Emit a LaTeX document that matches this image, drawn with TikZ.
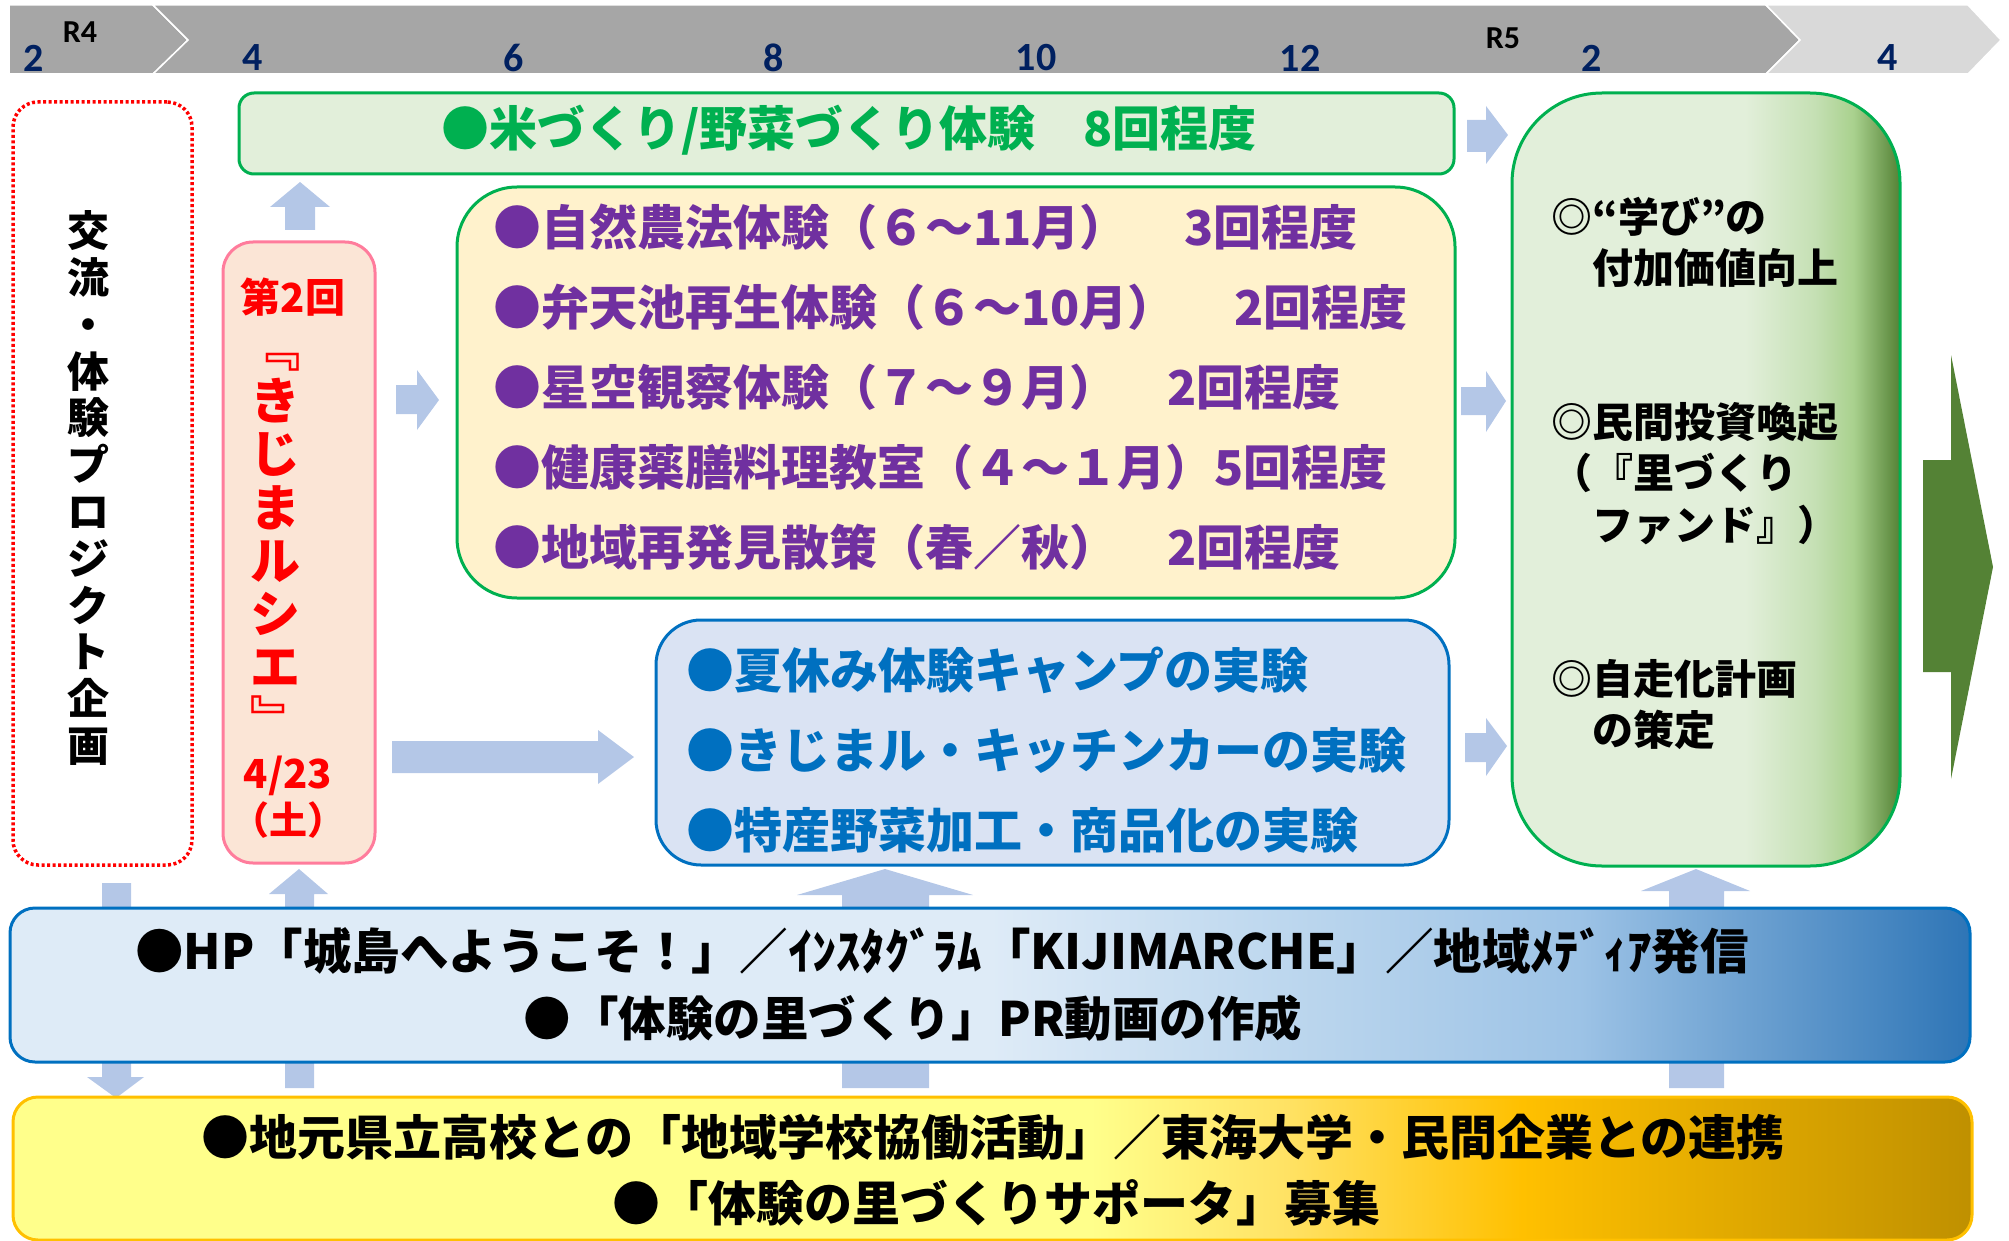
\documentclass[tikz,border=0pt]{standalone}
\usepackage{fontspec}
\setmainfont{Noto Sans CJK JP}
\newfontfamily\calibri{Carlito}
\definecolor{tlgray}{HTML}{A6A6A6}
\definecolor{tllight}{HTML}{D9D9D9}
\definecolor{navy}{HTML}{002060}
\definecolor{arrowblue}{HTML}{B4C7E7}
\definecolor{jgreen}{HTML}{00B050}
\definecolor{ricefill}{HTML}{E2EFDA}
\definecolor{goaltwo}{HTML}{C5E0B4}
\definecolor{goalthree}{HTML}{A9D18E}
\definecolor{darkgreen}{HTML}{548235}
\definecolor{creamfill}{HTML}{FFF2CC}
\definecolor{purpletext}{HTML}{7030A0}
\definecolor{bluetext}{HTML}{0070C0}
\definecolor{bluefill}{HTML}{DAE3F3}
\definecolor{peach}{HTML}{FBE5D6}
\definecolor{pinkline}{HTML}{FF7C9C}
\definecolor{prone}{HTML}{DEEBF7}
\definecolor{prtwo}{HTML}{BDD7EE}
\definecolor{prthree}{HTML}{9DC3E6}
\definecolor{prfour}{HTML}{2E75B6}
\definecolor{yelone}{HTML}{FFFF8B}
\definecolor{yeltwo}{HTML}{FFE264}
\definecolor{yelthree}{HTML}{FFC000}
\definecolor{yelfour}{HTML}{BF9000}
\pgfdeclarehorizontalshading{goalshade}{100bp}{color(0bp)=(ricefill); color(25bp)=(ricefill); color(55bp)=(ricefill); color(64bp)=(goaltwo); color(69bp)=(goalthree); color(75bp)=(darkgreen); color(100bp)=(darkgreen)}
\pgfdeclarehorizontalshading{prshade}{100bp}{color(0bp)=(prone); color(25bp)=(prone); color(50bp)=(prone); color(57.5bp)=(prtwo); color(65bp)=(prthree); color(75bp)=(prfour); color(100bp)=(prfour)}
\pgfdeclarehorizontalshading{yelshade}{100bp}{color(0bp)=(yelone); color(25bp)=(yelone); color(52.5bp)=(yelone); color(57.5bp)=(yeltwo); color(63.5bp)=(yelthree); color(75bp)=(yelfour); color(100bp)=(yelfour)}
\tikzset{
  boxnode/.style={rectangle, inner sep=0pt, line width=3pt},
  arrowfill/.style={fill=arrowblue},
  tlnum/.style={inner sep=0pt, text=navy, font={\calibri\bfseries\fontsize{40}{44}\selectfont}},
  tlera/.style={inner sep=0pt, text=black, font={\calibri\bfseries\fontsize{32}{36}\selectfont}},
  jtext/.style={inner sep=0pt, font={\bfseries\fontsize{#1}{#1}\selectfont}},
  vstack/.style 2 args={inner sep=0pt, align=center, font={\bfseries\fontsize{#1}{#2}\selectfont}},
}
\begin{document}
\begin{tikzpicture}[x=1pt,y=-1pt]
\useasboundingbox (0,0) rectangle (2009,1241);
% timeline
\filldraw[fill=tlgray, draw=white, line width=1.5pt] (9,5) -- (153,5) -- (188,40) -- (153,74) -- (9,74) -- cycle;
\filldraw[fill=tlgray, draw=white, line width=1.5pt] (153,5) -- (1766,5) -- (1800,40) -- (1766,74) -- (153,74) -- (188,40) -- cycle;
\filldraw[fill=tllight, draw=white, line width=1.5pt] (1766,5) -- (1968,5) -- (2001,40) -- (1968,74) -- (1766,74) -- (1800,40) -- cycle;
\node[tlnum] (m1) at (34,58) {2};
\node[tlera] (r4) at (80,32) {R4};
\node[tlnum] (m2) at (253,58) {4};
\node[tlnum] (m3) at (514,58) {6};
\node[tlnum] (m4) at (774,58) {8};
\node[tlnum] (m5) at (1036,58) {10};
\node[tlnum] (m6) at (1300,58) {12};
\node[tlera] (r5) at (1503,38) {R5};
\node[tlnum] (m7) at (1592,58) {2};
\node[tlnum] (m8) at (1888,58) {4};
% block arrows
\fill[arrowfill] (285,230) -- (285,207) -- (270,207) -- (300,182) -- (330,207) -- (315,207) -- (315,230) -- cycle;
\fill[arrowfill] (1467,120) -- (1486,120) -- (1486,106) -- (1508,135) -- (1486,164) -- (1486,152) -- (1467,152) -- cycle;
\fill[arrowfill] (1461,387) -- (1486,387) -- (1486,371) -- (1506,401) -- (1486,432) -- (1486,415) -- (1461,415) -- cycle;
\fill[arrowfill] (1465,733) -- (1486,733) -- (1486,718) -- (1507,746) -- (1486,776) -- (1486,762) -- (1465,762) -- cycle;
\fill[arrowfill] (396,385) -- (417,385) -- (417,370) -- (439,400) -- (417,430) -- (417,414) -- (396,414) -- cycle;
\fill[arrowfill] (392,741) -- (598,741) -- (598,730) -- (634,757) -- (598,784) -- (598,773) -- (392,773) -- cycle;
\fill[arrowfill] (102,883) -- (131,883) -- (131,1077) -- (144,1077) -- (116,1098) -- (87,1077) -- (102,1077) -- cycle;
\fill[arrowfill] (285,1088) -- (285,894) -- (269,894) -- (299,869) -- (328,894) -- (314,894) -- (314,1088) -- cycle;
\fill[arrowfill] (842,1088) -- (842,895) -- (797,895) -- (885,869) -- (973,895) -- (929,895) -- (929,1088) -- cycle;
\fill[arrowfill] (1669,1088) -- (1669,891) -- (1641,891) -- (1696,869) -- (1750,891) -- (1724,891) -- (1724,1088) -- cycle;
\fill[darkgreen] (1923,460) -- (1951,460) -- (1951,355) -- (1993,567) -- (1951,779) -- (1951,672) -- (1923,672) -- cycle;
% boxes
\node[boxnode, draw=red, line width=3.5pt, dash pattern=on 3pt off 2.5pt, rounded corners=25pt, minimum width=179pt, minimum height=763pt] (redbox) at (102.5,483.5) {};
\node[boxnode, fill=peach, draw=pinkline, rounded corners=30pt, minimum width=152pt, minimum height=621pt] (pinkbox) at (299,552.5) {};
\node[boxnode, fill=ricefill, draw=jgreen, rounded corners=15pt, minimum width=1215pt, minimum height=81pt] (rice) at (846.5,133.5) {};
\node[boxnode, fill=creamfill, draw=jgreen, rounded corners=60pt, minimum width=998pt, minimum height=411pt] (nature) at (956,392.5) {};
\node[boxnode, fill=bluefill, draw=bluetext, rounded corners=45pt, minimum width=793pt, minimum height=245pt] (camp) at (1052.5,742.5) {};
\node[boxnode, shading=goalshade, draw=jgreen, rounded corners=90pt, minimum width=388pt, minimum height=773pt] (goal) at (1706,479.5) {};
\node[boxnode, shading=prshade, draw=bluetext, rounded corners=25pt, minimum width=1960pt, minimum height=154pt] (pr) at (990,985) {};
\node[boxnode, shading=yelshade, draw=yelthree, rounded corners=25pt, minimum width=1959pt, minimum height=143pt] (partner) at (992.5,1168.5) {};
% red box text
\node[vstack={42}{46.8}] (redtext) at (88,488) {交\\流\\・\\体\\験\\プ\\ロ\\ジ\\ク\\ト\\企\\画};
% pink box text
\node[jtext=40, text=red] (kai) at (293,297) {第2回};
\node[vstack={50}{53.1}, text=red] (marche) at (275,546) {﹃\\き\\じ\\ま\\ル\\シ\\エ\\﹄};
\node[jtext=40, text=red] (date) at (288,776) {4/23};
\node[jtext=38, text=red] (day) at (288,820) {（土）};
% rice box
\node[jtext=48, text=jgreen] (ricetext) at (849,130) {●米づくり/野菜づくり体験　8回程度};
% nature box
\node[jtext=48, text=purpletext, anchor=west] (n1) at (493,227) {●自然農法体験（６～11月）};
\node[jtext=48, text=purpletext, anchor=west] (n1c) at (1184,227) {3回程度};
\node[jtext=48, text=purpletext, anchor=west] (n2) at (493,307) {●弁天池再生体験（６～10月）};
\node[jtext=48, text=purpletext, anchor=west] (n2c) at (1234,307) {2回程度};
\node[jtext=48, text=purpletext, anchor=west] (n3) at (493,387) {●星空観察体験（７～９月）};
\node[jtext=48, text=purpletext, anchor=west] (n3c) at (1167,387) {2回程度};
\node[jtext=48, text=purpletext, anchor=west] (n4) at (493,467) {●健康薬膳料理教室（４～１月）};
\node[jtext=48, text=purpletext, anchor=west] (n4c) at (1214,467) {5回程度};
\node[jtext=48, text=purpletext, anchor=west] (n5) at (493,547) {●地域再発見散策（春／秋）};
\node[jtext=48, text=purpletext, anchor=west] (n5c) at (1167,547) {2回程度};
% camp box
\node[jtext=48, text=bluetext, anchor=west] (c1) at (686,670) {●夏休み体験キャンプの実験};
\node[jtext=48, text=bluetext, anchor=west] (c2) at (686,750) {●きじまル・キッチンカーの実験};
\node[jtext=48, text=bluetext, anchor=west] (c3) at (686,830) {●特産野菜加工・商品化の実験};
% goal box
\node[jtext=41, anchor=west] (g1) at (1551,217) {◎“学び”の};
\node[jtext=41, anchor=west] (g2) at (1551,268) {　付加価値向上};
\node[jtext=41, anchor=west] (g3) at (1551,422) {◎民間投資喚起};
\node[jtext=41, anchor=west] (g4) at (1551,473) {（『里づくり};
\node[jtext=41, anchor=west] (g5) at (1551,525) {　ファンド』）};
\node[jtext=41, anchor=west] (g6) at (1551,679) {◎自走化計画};
\node[jtext=41, anchor=west] (g7) at (1551,730) {　の策定};
% pr box
\node[jtext=48.5] (p1) at (942,951) {●HP「城島へようこそ！」／ｲﾝｽﾀｸﾞﾗﾑ「KIJIMARCHE」／地域ﾒﾃﾞｨｱ発信};
\node[jtext=47.5] (p2) at (913,1018) {●「体験の里づくり」PR動画の作成};
% partner box
\node[jtext=48] (s1) at (993,1137) {●地元県立高校との「地域学校協働活動」／東海大学・民間企業との連携};
\node[jtext=48] (s2) at (996,1203) {●「体験の里づくりサポータ」募集};
\end{tikzpicture}
\end{document}
